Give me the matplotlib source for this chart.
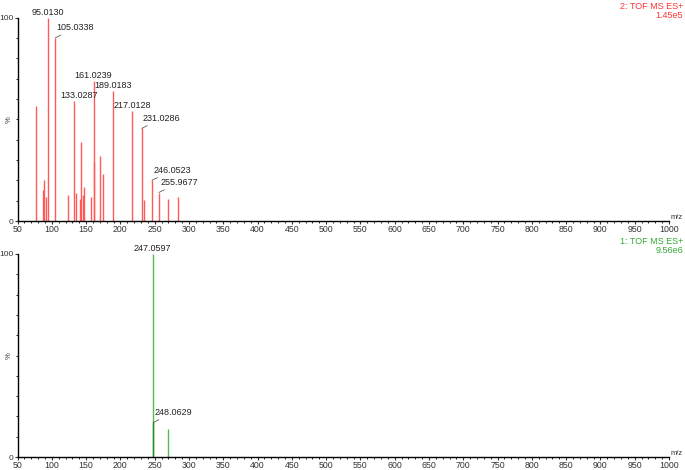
import numpy as np
import matplotlib
matplotlib.use("Agg")
import matplotlib.pyplot as plt

plt.rcParams['font.family'] = ['Liberation Sans', 'DejaVu Sans']
plt.rcParams['font.size'] = 6.5

# ------------------------------------------------------------
# Spectrum 2 (top, red)
top_mz = [77, 87, 89, 91, 95.0130, 105.0338, 123, 133.0287, 135, 141, 143,
          145, 147, 157, 161.0239, 162, 171, 175, 189.0183, 217.0128,
          231.0286, 235, 246.0523, 255.9677, 269, 284]
top_int = [56.5, 15, 20, 12, 100, 90, 13, 59, 14, 11, 39,
           13, 16.5, 12, 69, 29, 32, 23, 64, 54,
           45.5, 10.5, 20, 14, 11, 12]

# labelled peaks: (m/z, style)  c = centred above, l = leader line
top_labels = [(95.0130, "c"), (105.0338, "l"), (133.0287, "c2"), (161.0239, "c"),
              (189.0183, "c"), (217.0128, "c"), (231.0286, "l"),
              (246.0523, "l"), (255.9677, "l")]

# Spectrum 1 (bottom, green)
bot_mz = [247.0597, 248.0629, 269]
bot_int = [100, 17, 14]
bot_labels = [(247.0597, "c"), (248.0629, "l")]

red = "#ff5a5a"
green = "#55bb55"
dkgreen = "#1c8c1c"

fig = plt.figure(figsize=(6.85, 4.70), dpi=100)

ax1 = fig.add_axes([17.5 / 685, 1 - 221 / 470, 651.5 / 685, 203.5 / 470])
ax2 = fig.add_axes([17.5 / 685, 1 - 457 / 470, 651.5 / 685, 203 / 470])


def style_axis(ax):
    ax.set_xlim(50, 1000)
    ax.set_ylim(0, 100)
    for s in ["top", "right"]:
        ax.spines[s].set_visible(False)
    ax.spines["left"].set_linewidth(1.0)
    ax.spines["bottom"].set_linewidth(1.0)
    ax.set_xticks(np.arange(50, 1001, 50))
    ax.set_xticks(np.arange(50, 1001, 10), minor=True)
    ax.set_yticks([0, 100])
    ax.set_yticks(np.arange(0, 101, 10), minor=True)
    ax.tick_params(axis="x", which="major", length=2.2, width=0.8, pad=0.6,
                   labelsize=6.3, colors="#333333")
    ax.tick_params(axis="x", which="minor", length=1.5, width=0.6)
    ax.tick_params(axis="y", which="major", length=2.2, width=0.8, pad=0.6,
                   labelsize=6.0, colors="#333333")
    ax.tick_params(axis="y", which="minor", length=1.5, width=0.6)
    ax.text(-8 / 651.5, 0.5, "%", transform=ax.transAxes, rotation=90,
            ha="center", va="center", fontsize=5.5, color="#333333")
    ax.text(1.003, 0.0, "m/z", transform=ax.transAxes, ha="left", va="bottom",
            fontsize=5.5, color="#333333")


def label_peaks(ax, mz, inten, labels):
    for m, kind in labels:
        h = inten[mz.index(m)]
        txt = f"{m:.4f}"
        if kind == "l":
            ax.annotate(txt, xy=(m, h), xytext=(1, 4), textcoords="offset points",
                        ha="left", va="bottom", fontsize=6.5, color="#222222",
                        annotation_clip=False,
                        arrowprops=dict(arrowstyle="-", color="#444444", lw=0.5,
                                        shrinkA=0, shrinkB=0))
        elif kind == "c2":
            ax.annotate(txt, xy=(m, h), xytext=(3.5, 0.5), textcoords="offset points",
                        ha="center", va="bottom", fontsize=6.5, color="#222222",
                        annotation_clip=False)
        else:
            ax.annotate(txt, xy=(m, h), xytext=(0, 0.5), textcoords="offset points",
                        ha="center", va="bottom", fontsize=6.5, color="#222222",
                        annotation_clip=False)


style_axis(ax1)
ax1.vlines(top_mz, 0, top_int, colors=red, linewidth=1.0)
label_peaks(ax1, top_mz, top_int, top_labels)

style_axis(ax2)
ax2.vlines(bot_mz[0], 0, bot_int[0], colors=green, linewidth=1.0)
ax2.vlines(bot_mz[1], 0, bot_int[1], colors=dkgreen, linewidth=1.0)
ax2.vlines(bot_mz[2], 0, bot_int[2], colors=green, linewidth=1.0)
label_peaks(ax2, bot_mz, bot_int, bot_labels)

fig.text(683 / 685, 1 - 2 / 470, "2: TOF MS ES+", ha="right", va="top",
         fontsize=6.5, color="#ff3333")
fig.text(683 / 685, 1 - 11 / 470, "1.45e5", ha="right", va="top",
         fontsize=6.5, color="#ff3333")
fig.text(683 / 685, 1 - 237 / 470, "1: TOF MS ES+", ha="right", va="top",
         fontsize=6.5, color="#33aa33")
fig.text(683 / 685, 1 - 246 / 470, "9.56e6", ha="right", va="top",
         fontsize=6.5, color="#33aa33")

fig.savefig("out.png", dpi=100)
